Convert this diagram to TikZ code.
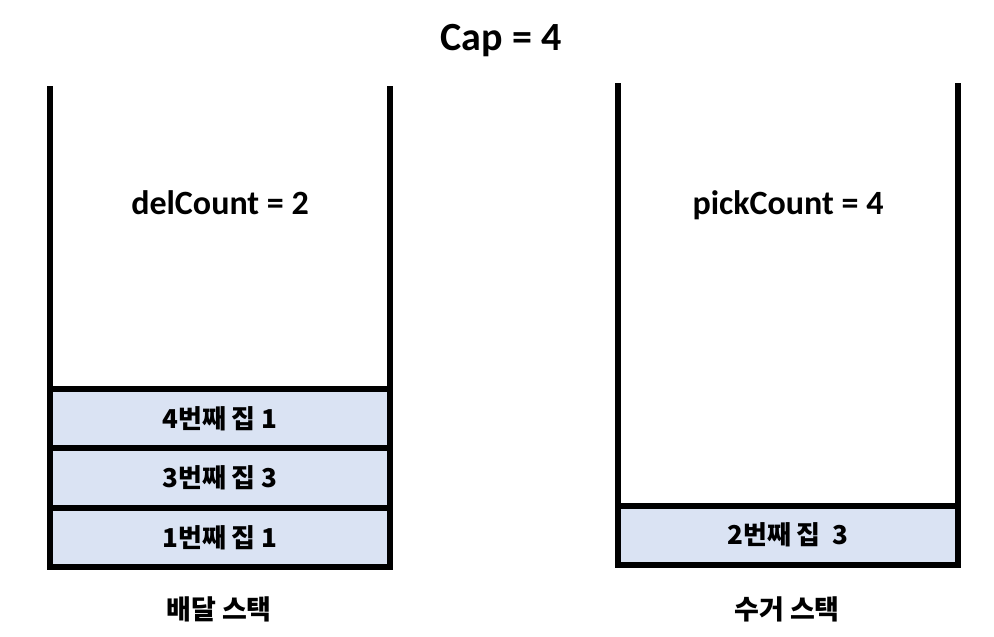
\documentclass[tikz,border=0pt]{standalone}
\usepackage{fontspec}
\setmainfont{Carlito}
\newfontfamily\kofont{Noto Sans CJK KR}
\definecolor{boxblue}{HTML}{DAE3F3}

\begin{document}
\begin{tikzpicture}[x=1pt,y=-1pt,
    house/.style={draw=black, line width=6pt, fill=boxblue, minimum width=340pt, minimum height=59.5pt, inner sep=0pt, font=\kofont\bfseries\fontsize{26}{26}\selectfont},
    header/.style={font=\bfseries\fontsize{34}{34}\selectfont, anchor=base},
    stacklabel/.style={font=\kofont\bfseries\fontsize{27}{27}\selectfont}]
    \useasboundingbox (0,0) rectangle (994,637);

    % Title
    \node[header, font=\bfseries\fontsize{40}{40}\selectfont] (cap) at (501,50) {Cap = 4};

    % Draw Stack Walls
    % -- delivery stack
    \draw[line width=6pt] (50,86) -- (50,567) -- (390,567) -- (390,86);
    % -- pickup stack
    \draw[line width=6pt] (618,83) -- (618,564.5) -- (958,564.5) -- (958,83);

    % Counters
    \node[header] (del) at (220,214) {delCount = 2};
    \node[header] (pick) at (788,214) {pickCount = 4};

    % Houses in delivery stack
    \node[house] (h4) at (220,418.5) {4번째 집 1};
    \node[house] (h3) at (220,478) {3번째 집 3};
    \node[house] (h1) at (220,537.5) {1번째 집 1};

    % Houses in pickup stack
    \node[house, minimum height=58.5pt] (h2) at (788,535.25) {2번째 집~~3};

    % Stack Labels
    \node[stacklabel] (dellabel) at (219,609) {배달 스택};
    \node[stacklabel] (picklabel) at (787,609) {수거 스택};
\end{tikzpicture}
\end{document}
